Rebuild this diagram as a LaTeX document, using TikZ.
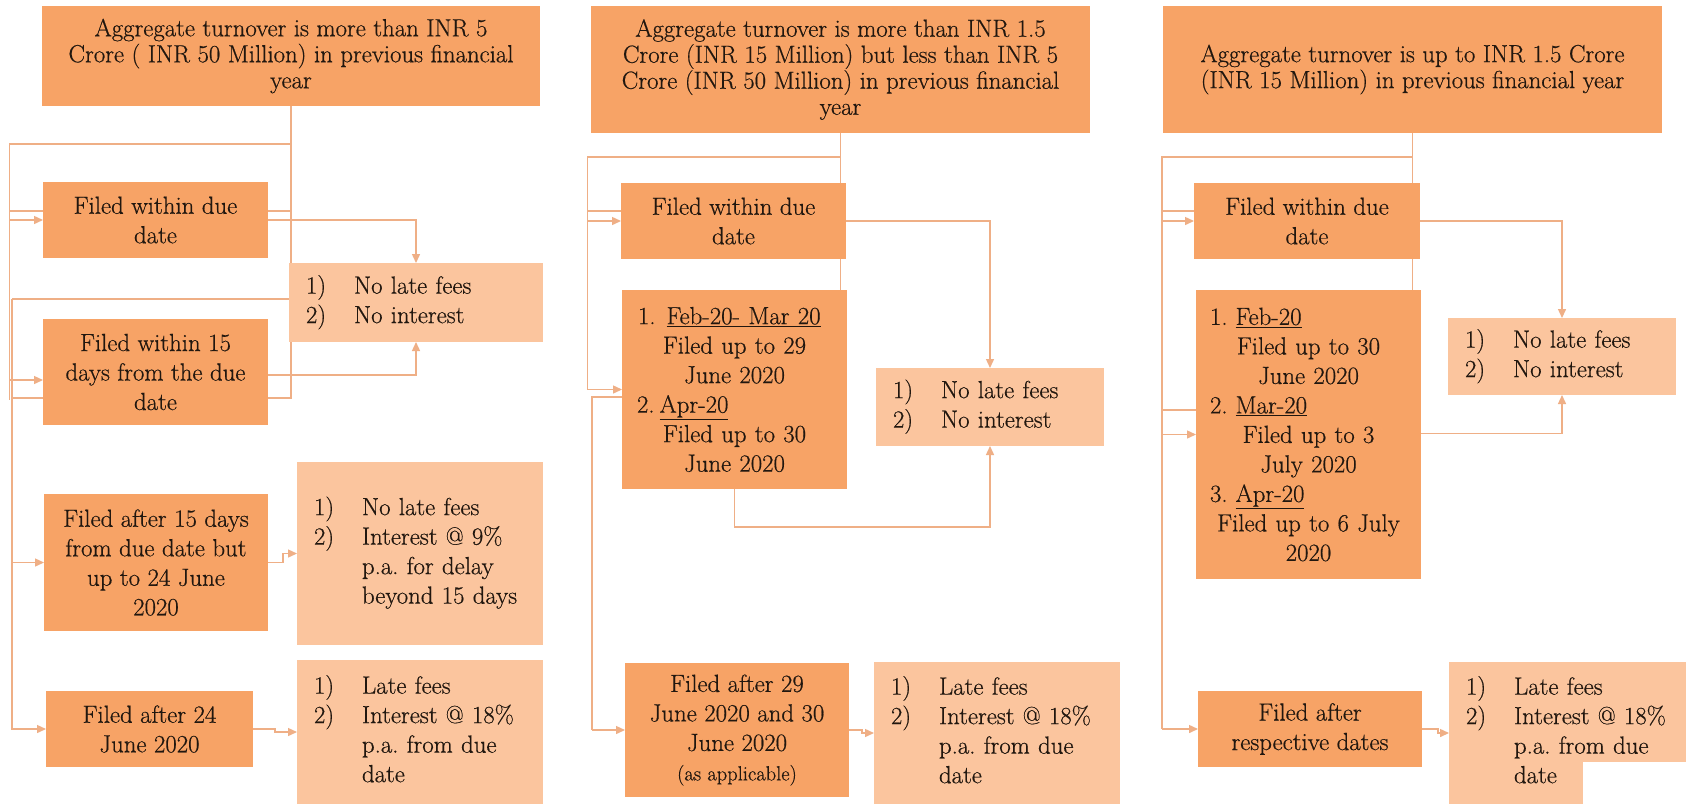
\documentclass[tikz,border=0pt]{standalone}
\usepackage{fontspec}
\setmainfont{Latin Modern Roman}[FakeBold=0.5]
\usetikzlibrary{arrows.meta,backgrounds}

\definecolor{boxdark}{HTML}{F7A366}
\definecolor{boxlight}{HTML}{FBC59E}
\definecolor{wire}{HTML}{EFAF86}
\definecolor{ink}{HTML}{21170F}

% two-column list: number, then hanging text
\newcommand{\numlist}[1]{\begin{tabular}{@{}p{48pt}@{}l@{}}#1\end{tabular}}
% a left-flushed line inside a centred block
\newcommand{\flushline}[1]{\makebox[\linewidth][l]{#1}}

\tikzset{
  base/.style={rectangle, inner sep=0pt, outer sep=0pt, text=ink,
    font=\fontsize{24.8}{29.5}\selectfont\frenchspacing},
  head/.style={base, fill=boxdark, align=center,
    font=\fontsize{24.8}{26}\selectfont},
  dbox/.style={base, fill=boxdark, align=center},
  multibox/.style={base, fill=boxdark, align=center, inner xsep=14pt},
  lbox/.style={base, fill=boxlight, align=left, inner xsep=17pt},
  link/.style={draw=wire, line width=1.4pt},
  arr/.style={link, -{Triangle[length=9pt,width=8pt]}},
}

\begin{document}
\begin{tikzpicture}[x=1pt,y=-1pt]
\useasboundingbox (0,0) rectangle (1686,804);

% ---------------- column 1: turnover above INR 5 Crore ----------------
\node[head, minimum width=498pt, minimum height=100pt] (t1) at (291,56)
  {Aggregate turnover is more than INR 5\\Crore ( INR 50 Million) in previous financial\\year};
\node[dbox, minimum width=225pt, minimum height=76pt] (b1) at (155.5,220)
  {Filed within due\\date};
\node[lbox, minimum width=254pt, minimum height=79pt, text width=220pt] (n1) at (416,302.5)
  {\numlist{1) & No late fees\\ 2) & No interest}};
\node[dbox, minimum width=225pt, minimum height=106pt] (c1) at (155.5,372)
  {Filed within 15\\days from the due\\date};
\node[dbox, minimum width=224pt, minimum height=137pt] (d1) at (156,562.5)
  {Filed after 15 days\\from due date but\\up to 24 June\\2020};
\node[lbox, minimum width=246pt, minimum height=183pt, text width=212pt] (i1) at (420,553.5)
  {\numlist{1) & No late fees\\ 2) & Interest @ 9\%\\ & p.a. for delay\\ & beyond 15 days}};
\node[dbox, minimum width=207pt, minimum height=76pt] (e1) at (149.5,729)
  {Filed after 24\\June 2020};
\node[lbox, minimum width=246pt, minimum height=144pt, text width=212pt] (l1) at (420,732)
  {\numlist{1) & Late fees\\ 2) & Interest @ 18\%\\ & p.a. from due\\ & date}};

% ---------------- column 2: INR 1.5 to 5 Crore ----------------
\node[head, minimum width=499pt, minimum height=127pt] (t2) at (840.5,69.5)
  {Aggregate turnover is more than INR 1.5\\Crore (INR 15 Million) but less than INR 5\\Crore (INR 50 Million) in previous financial\\year};
\node[dbox, minimum width=225pt, minimum height=76pt] (b2) at (733.5,221)
  {Filed within due\\date};
\node[multibox, minimum width=225pt, minimum height=199pt, text width=197pt] (f2) at (734.5,389.5)
  {\flushline{\hspace{2pt}1.\hspace{11pt}\underline{Feb-20- Mar 20}}\\Filed up to 29\\June 2020\\
   \flushline{\hspace{1pt}2.\hspace{5pt}\underline{Apr-20}}\\Filed up to 30\\June 2020};
\node[lbox, minimum width=228pt, minimum height=78pt, text width=194pt] (n2) at (990,407)
  {\numlist{1) & No late fees\\ 2) & No interest}};
\node[dbox, minimum width=224pt, minimum height=134pt] (g2) at (737,730)
  {Filed after 29\\June 2020 and 30\\June 2020\\{\fontsize{20.5}{23}\selectfont (as applicable)}};
\node[lbox, minimum width=246pt, minimum height=142pt, text width=212pt] (l2) at (997,733)
  {\numlist{1) & Late fees\\ 2) & Interest @ 18\%\\ & p.a. from due\\ & date}};

% ---------------- column 3: up to INR 1.5 Crore ----------------
\node[head, minimum width=499pt, minimum height=127pt] (t3) at (1412.5,69.5)
  {Aggregate turnover is up to INR 1.5 Crore\\(INR 15 Million) in previous financial year};
\node[dbox, minimum width=226pt, minimum height=76pt] (b3) at (1307,221)
  {Filed within due\\date};
\node[multibox, minimum width=225pt, minimum height=289pt, text width=197pt] (f3) at (1308.5,434.5)
  {\flushline{1.\hspace{8pt}\underline{Feb-20}}\\Filed up to 30\\June 2020\\
   \flushline{2.\hspace{8pt}\underline{Mar-20}}\\Filed up to 3\\July 2020\\
   \flushline{3.\hspace{8pt}\underline{Apr-20}}\\Filed up to 6 July\\2020};
\node[lbox, minimum width=228pt, minimum height=77pt, text width=194pt] (n3) at (1562,356.5)
  {\numlist{1) & No late fees\\ 2) & No interest}};
\node[dbox, minimum width=224pt, minimum height=76pt] (h3) at (1310,729)
  {Filed after\\respective dates};
\node[lbox, minimum width=237pt, minimum height=142pt, text width=203pt] (l3) at (1567.5,733)
  {\numlist{1) & Late fees\\ 2) & Interest @ 18\%\\ & p.a. from due\\ & date}};
% blank patch over the corner of the last box
\fill[white] (1583,762) rectangle (1686,804);

% ---------------- connectors (behind the boxes) ----------------
\begin{scope}[on background layer]
  \fill[white] (0,0) rectangle (1686,804);

  % column 1 rails
  \coordinate (L1) at (9.5,144);
  \coordinate (L1end) at (9.5,400);
  \coordinate (M1) at (12,299);
  \coordinate (M1end) at (12,730);
  \coordinate (k1) at (291,398);
  \draw[link] (t1.south) -- (k1) -- (k1 -| M1);
  \draw[link] (t1.south |- L1) -- (L1) -- (L1end);
  \draw[link] (M1) -- (M1end);
  \draw[link] (M1) -- (M1 -| t1.south);
  \draw[link] ([yshift=9pt]b1.west -| L1) -- ([yshift=9pt]b1.west -| t1.south);
  \draw[arr] (b1.west -| L1) -- (b1.west);
  \draw[arr] ([yshift=-8pt]c1.west -| L1) -- ([yshift=-8pt]c1.west);
  \draw[arr] (d1.west -| M1) -- (d1.west);
  \draw[arr] (e1.west -| M1) -- (e1.west);
  \draw[arr] (b1.east) -| (n1.north);
  \draw[arr] ([yshift=-3pt]c1.east) -| (n1.south);
  \draw[arr] (d1.east) -- ++(15,0) |- (i1.west);
  \draw[arr] (e1.east) -- ++(22,0) |- (l1.west);

  % column 2 rails
  \coordinate (L2) at (587.5,157);
  \coordinate (M2) at (592,397);
  \draw[link] (t2.south) -- (t2.south |- f2.north);
  \draw[link] (t2.south |- L2) -- (L2) -- (L2 |- f2.west);
  \draw[link] ([yshift=10pt]b2.west -| L2) -- ([yshift=10pt]b2.west);
  \draw[arr] (b2.west -| L2) -- (b2.west);
  \draw[arr] (f2.west -| L2) -- (f2.west);
  \draw[link] (M2 -| f2.west) -- (M2) -- (M2 |- g2.west);
  \draw[arr] (g2.west -| M2) -- (g2.west);
  \draw[arr] (b2.east) -| (n2.north);
  \draw[arr] (f2.south) -- ++(0,38) -| (n2.south);
  \draw[arr] (g2.east) -- ++(13,0) |- (l2.west);

  % column 3 rails
  \coordinate (L3) at (1162,157);
  \draw[link] (t3.south) -- (t3.south |- f3.north);
  \draw[link] (t3.south |- L3) -- (L3) -- (L3 |- h3.west);
  \draw[link] ([yshift=10pt]b3.west -| L3) -- ([yshift=10pt]b3.west);
  \draw[arr] (b3.west -| L3) -- (b3.west);
  \draw[link] ([yshift=24.5pt]f3.west -| L3) -- ([yshift=24.5pt]f3.west);
  \draw[arr] (f3.west -| L3) -- (f3.west);
  \draw[arr] (h3.west -| L3) -- (h3.west);
  \draw[arr] (b3.east) -| (n3.north);
  \draw[arr] ([yshift=1pt]f3.east) -| (n3.south);
  \draw[arr] (h3.east) -- ++(16,0) |- (l3.west);
\end{scope}
\end{tikzpicture}
\end{document}
